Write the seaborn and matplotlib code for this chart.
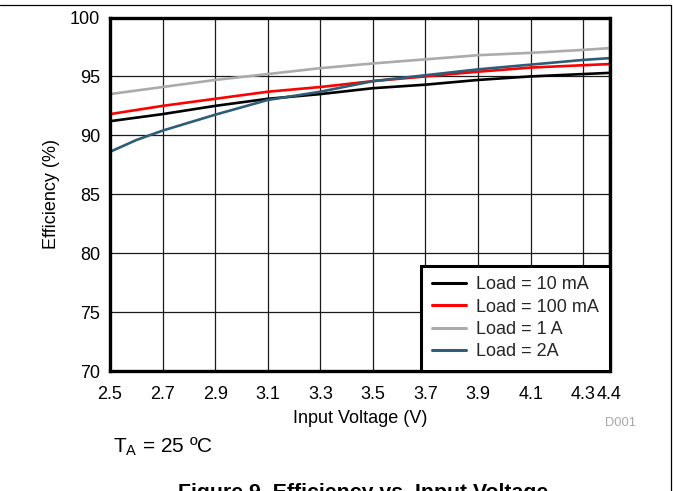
import matplotlib
matplotlib.use("Agg")
import matplotlib.pyplot as plt
from matplotlib.lines import Line2D
import pandas as pd
import seaborn as sns

# Input voltage sweep (V)
voltage = [2.5, 2.6, 2.7, 2.9, 3.1, 3.3, 3.5, 3.7, 3.9, 4.1, 4.3, 4.4]

# Efficiency (%) for each load current
eff_10ma = [91.2, 91.5, 91.8, 92.5, 93.1, 93.5, 94.0, 94.3, 94.7, 95.0, 95.2, 95.3]
eff_100ma = [91.8, 92.15, 92.5, 93.1, 93.7, 94.1, 94.6, 95.0, 95.4, 95.75, 95.95, 96.05]
eff_1a = [93.5, 93.8, 94.1, 94.7, 95.2, 95.7, 96.1, 96.45, 96.8, 97.0, 97.25, 97.4]
eff_2a = [88.6, 89.6, 90.4, 91.75, 93.0, 93.7, 94.6, 95.1, 95.6, 96.0, 96.4, 96.55]

loads = ["Load = 10 mA", "Load = 100 mA", "Load = 1 A", "Load = 2A"]
colors = ["#000000", "#FF0000", "#ABABAB", "#2E5D78"]

x_ticks = [2.5, 2.7, 2.9, 3.1, 3.3, 3.5, 3.7, 3.9, 4.1, 4.3, 4.4]
x_ticklabels = ["2.5", "2.7", "2.9", "3.1", "3.3", "3.5", "3.7", "3.9", "4.1", "4.3", "4.4"]
y_ticks = [70, 75, 80, 85, 90, 95, 100]

frames = []
for name, vals in zip(loads, [eff_10ma, eff_100ma, eff_1a, eff_2a]):
    frames.append(pd.DataFrame({"Input Voltage (V)": voltage,
                                "Efficiency (%)": vals,
                                "Load": name}))
df = pd.concat(frames, ignore_index=True)

sns.set_theme(style="white")
plt.rcParams["font.family"] = ["Liberation Sans", "DejaVu Sans"]
plt.rcParams["mathtext.default"] = "regular"

fig = plt.figure(figsize=(6.73, 4.91), dpi=100)
ax = fig.add_axes([110 / 673, 1 - 371 / 491, 499.5 / 673, 353.5 / 491])

sns.lineplot(data=df, x="Input Voltage (V)", y="Efficiency (%)", hue="Load",
             hue_order=loads, palette=colors, linewidth=1.9, ax=ax,
             estimator=None, sort=False)

ax.set_xlim(2.5, 4.4)
ax.set_ylim(70, 100)
ax.set_xticks(x_ticks)
ax.set_xticklabels(x_ticklabels)
ax.set_yticks(y_ticks)
ax.tick_params(axis="both", length=0, labelsize=13, colors="black")
ax.tick_params(axis="x", pad=11)
ax.tick_params(axis="y", pad=7)
ax.grid(True, color="#1a1a1a", linewidth=0.9)
ax.set_axisbelow(True)
for sp in ax.spines.values():
    sp.set_visible(True)
    sp.set_color("black")
    sp.set_linewidth(2.4)

ax.set_xlabel("Input Voltage (V)", fontsize=13, color="black", labelpad=4.5)
ax.set_ylabel("Efficiency (%)", fontsize=13, color="black", labelpad=7)

old = ax.get_legend()
handles = old.legend_handles
labels = [t.get_text() for t in old.texts]
old.remove()
for h, c in zip(handles, colors):
    h.set_color(c)
    h.set_linewidth(2.2)
leg = ax.legend(handles, labels, loc="lower right", bbox_to_anchor=(1.0, 0.0),
                borderaxespad=0, fontsize=13, frameon=True, fancybox=False,
                framealpha=1, edgecolor="black", handlelength=1.9,
                handletextpad=0.55, labelspacing=0.29, borderpad=0.6)
leg.get_frame().set_linewidth(2.2)

fig.text(113 / 673, 1 - 453 / 491, r"T$_{A}$ = 25 ºC", fontsize=15,
         ha="left", va="baseline", color="black")
fig.text(636 / 673, 1 - 423 / 491, "D001", fontsize=9.3, ha="right",
         va="center", color="#A8A8A8")
fig.text(363 / 673, 1 - 498 / 491, "Figure 9. Efficiency vs. Input Voltage",
         fontsize=15.3, fontweight="bold", ha="center", va="baseline",
         color="black")

# page frame lines
fig.add_artist(Line2D([0, 671 / 673], [1 - 4.5 / 491, 1 - 4.5 / 491],
                      transform=fig.transFigure, color="black", linewidth=0.9))
fig.add_artist(Line2D([671 / 673, 671 / 673], [0, 1 - 4.5 / 491],
                      transform=fig.transFigure, color="black", linewidth=0.9))

fig.savefig("out.png", dpi=100)
